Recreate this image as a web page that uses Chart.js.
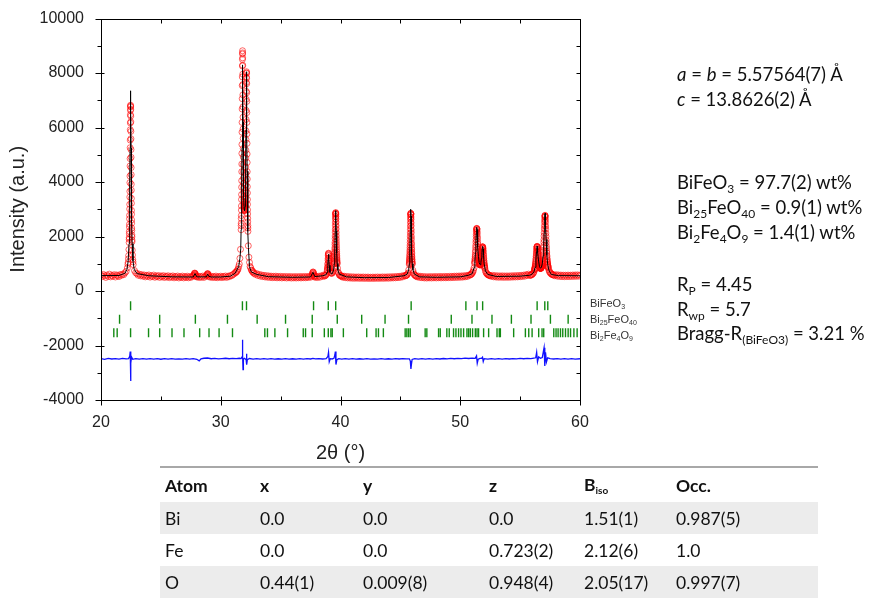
<!DOCTYPE html>
<html>
<head>
<meta charset="utf-8">
<script src="https://cdn.jsdelivr.net/npm/chart.js@4.4.1/dist/chart.umd.min.js"></script>
<style>
  body { margin: 0; background: #fff; }
  #wrap { position: relative; width: 870px; height: 601px; overflow: hidden; font-family: "Liberation Sans", Arial, sans-serif; }
  #plot { position: absolute; left: 0; top: 0; }
  .phase { position: absolute; left: 590px; font-size: 11px; color: #333; line-height: 12px; }
  .phase sub { font-size: 7px; vertical-align: -2px; }
  .info { position: absolute; left: 677px; font-family: Lato, "Open Sans", sans-serif; font-size: 18.5px; color: #111; line-height: 22px; white-space: nowrap; }
  .info sub { font-size: 12px; vertical-align: -4px; }
  table { position: absolute; left: 160px; top: 466px; width: 658px; table-layout: fixed; border-collapse: collapse; font-family: Lato, "Open Sans", sans-serif; font-size: 17.5px; color: #111; border-top: 2px solid #a8a8a8; }
  td, th { height: 32px; padding: 0 0 0 5px; text-align: left; white-space: nowrap; }
  th { font-weight: bold; height: 34px; }
  tr.g td { background: #ececec; }
  th sub { font-size: 10px; font-weight: bold; vertical-align: -3px; }
</style>
</head>
<body>
<div id="wrap">
  <canvas id="plot" width="870" height="470"></canvas>

  <div class="phase" style="top:297px">BiFeO<sub>3</sub></div>
  <div class="phase" style="top:313px">Bi<sub>25</sub>FeO<sub>40</sub></div>
  <div class="phase" style="top:329px">Bi<sub>2</sub>Fe<sub>4</sub>O<sub>9</sub></div>

  <div class="info" style="top:63px"><i>a</i> = <i>b</i> = 5.57564(7) Å</div>
  <div class="info" style="top:88px"><i>c</i> = 13.8626(2) Å</div>
  <div class="info" style="top:171px">BiFeO<sub>3</sub> = 97.7(2) wt%</div>
  <div class="info" style="top:196px">Bi<sub>25</sub>FeO<sub>40</sub> = 0.9(1) wt%</div>
  <div class="info" style="top:221px">Bi<sub>2</sub>Fe<sub>4</sub>O<sub>9</sub> = 1.4(1) wt%</div>
  <div class="info" style="top:273px">R<sub>P</sub> = 4.45</div>
  <div class="info" style="top:298px">R<sub>wp</sub> = 5.7</div>
  <div class="info" style="top:322px">Bragg-R<sub>(BiFeO3)</sub> = 3.21 %</div>

  <table>
    <tr><th style="width:90px">Atom</th><th style="width:98px">x</th><th style="width:121px">y</th><th style="width:90px">z</th><th style="width:87px">B<sub>iso</sub></th><th>Occ.</th></tr>
    <tr class="g"><td>Bi</td><td>0.0</td><td>0.0</td><td>0.0</td><td>1.51(1)</td><td>0.987(5)</td></tr>
    <tr><td>Fe</td><td>0.0</td><td>0.0</td><td>0.723(2)</td><td>2.12(6)</td><td>1.0</td></tr>
    <tr class="g"><td>O</td><td>0.44(1)</td><td>0.009(8)</td><td>0.948(4)</td><td>2.05(17)</td><td>0.997(7)</td></tr>
  </table>
</div>

<script>
// observed scan, stored as [start 2theta, step, counts...] pieces
const observedScan = [
  [20.0, 0.1, [590,530,610,555,500,585,540,620,520,575,545,600,515,590,560,530,605,575,620,600,665,720,850]],
  [22.25, 0.02, [980,1050,1180,1300,1520]],
  [22.35, 0.005, [1780,1900,1960,2100,2190,2350,2450,2650,2780,3010,3180,3450,3660,3980,4220,4590,4860,5260,5540,5920,6170,6470,6630,6790,6820,
                  6760,6670,6420,6210,5860,5590,5190,4910,4530,4270,3920,3700,3400,3220,2960,2820,2610,2490,2310,2220,2060,1990,1870,1810]],
  [22.61, 0.02, [1500,1320,1160,1070,970]],
  [22.8, 0.1, [750,670,640,580,620,555,600,545,590,520,575,540,590,510,560,530,585,505,555,525,570,500,550,520,565,495,545,515,560,490,
               540,510,555,485,535,505,550,480,530,500,548,482,530,498,545,485,528,500,540,560]],
  [27.75, 0.025, [570,600,640,660,650,620,590,555,530]],
  [28.0, 0.1, [515,545,495,535,505,550,500,540,560]],
  [28.85, 0.025, [590,620,640,630,600,565,530]],
  [29.1, 0.1, [510,545,495,535,500,548,488,530,505,545,492,538,510,552,500,545,525,570,560,600,625,680]],
  [31.25, 0.05, [670,710,720,770,810,900,990,1200,1530]],
  [31.70, 0.005, [2250,2400,2490,2660,2770,2970,3120,3360,3540,3810,4050,4380,4660,5050,5380,5830,6190,6680,7060,7540,7860,8260,8500,8700,8820,
                  8740,8560,8290,7960,7580,7200,6760,6380,5950,5600,5230,4920,4640,4380,4150,3950,3780,3620,3480,3370,3260,3180,3120,3080]],
  [31.95, 0.01, [3040,3010,2970,2950,2960,2990,3040,3080]],
  [32.03, 0.005, [3100,3130,3150,3230,3280,3380,3460,3590,3700,3880,4060,4310,4550,4880,5170,5560,5880,6300,6630,7040,7330,7660,7850,8010,8050,
                  7990,7810,7610,7280,6960,6550,6190,5770,5420,5030,4720,4380,4110,3830,3600,3360,3180,2980,2830,2670,2540,2400,2310,2190]],
  [32.30, 0.05, [1660,1240,1050,900,850,770,760,700,710,660]],
  [32.8, 0.1, [650,610,640,570,610,545,590,530,575,515,565,505,555,500,548,490,540,495,545,485,535,490,538,480,530,488,535,478,528,485,
               532,476,525,482,530,478,526,484,532,480,528,488,535,486,530,495,540,505]],
  [37.6, 0.025, [540,575,620,665,700,690,650,600,560,530,545]],
  [37.9, 0.1, [500,540,495,545,510,560,540,590]],
  [38.65, 0.05, [545,560,575,600,645]],
  [38.90, 0.01, [760,780,850,880,970,1020,1130,1200,1310,1350,1390,1370,1290,1220,1110,1050,950,905,840,810,760]],
  [39.15, 0.05, [690,660,650,655,690,745,860]],
  [39.48, 0.005, [1000,1020,1070,1100,1150,1190,1260,1300,1380,1440,1530,1600,1710,1790,1920,2020,2160,2270,2410,2520,2650,2730,2820,2860,2880,
                  2850,2810,2740,2640,2530,2400,2280,2150,2030,1910,1800,1700,1610,1520,1445,1370,1310,1250,1200,1145,1105,1060,1030,995]],
  [39.75, 0.05, [840,700,650,590,585,555,560,530,545]],
  [40.2, 0.1, [505,545,490,535,480,528,475,522,470,520,468,515,472,518,465,512,470,516,462,510,468,514,460,508,466,512,462,510,468,516,
               464,512,470,518,466,515,472,520,470,522,476,525,480,528,485,535,492,540,500,550,520,570,560]],
  [45.45, 0.05, [560,580,585,625,665,775]],
  [45.75, 0.005, [975,1015,1045,1095,1135,1185,1235,1295,1355,1435,1505,1595,1685,1785,1895,2015,2135,2265,2385,2515,2625,2725,2795,2845,2850,
                  2835,2805,2715,2635,2505,2395,2255,2145,2005,1905,1775,1695,1585,1515,1425,1365,1285,1245,1175,1145,1085,1055,1005,985]],
  [46.04, 0.05, [765,675,615,595,565,560,540]],
  [46.4, 0.1, [520,550,495,540,488,532,480,528,476,524,482,530,478,526,484,532,480,528,486,534,482,530,488,536,486,534,490,538,492,540,
               495,545,498,548,502,552,505,555,510,560,520,568,535,585,580]],
  [50.85, 0.05, [595,615,625,665,695,760,850]],
  [51.20, 0.01, [1010,1055,1090,1155,1200,1275,1330,1420,1490,1595,1680,1795,1885,2000,2080,2180,2235,2290,2300,2280,
                 2255,2180,2110,2005,1920,1810,1725,1615,1545,1450,1395,1315,1275,1210,1180,1125,1105,1060,1050,1015,
                 1010,985,985,965,975,955,970,960,980,975,1005,1010,1045,1050,1095,1115,1165,1195,1255,1295,
                 1360,1405,1470,1510,1570,1590,1625,1620,1615,1580,1550,1485,1440,1365,1315,1240,1195,1125,1090,1030,
                 1000,950,925,885,865,830]],
  [52.10, 0.05, [745,680,650,620,605,585,585,565,565]],
  [52.6, 0.1, [540,575,520,565,512,560,505,555,508,558,502,552,506,556,504,554,508,560,512,562,515,566,520,570,525,575,535,585,545,600,570,620]],
  [55.80, 0.05, [570,590,580,600,605,640,650,700]],
  [56.20, 0.01, [770,780,805,820,850,865,905,925,970,1000,1050,1090,1150,1195,1265,1320,1390,1445,1515,1555,
                 1605,1625,1640,1630,1612,1568,1528,1462,1412,1345,1295,1228,1188,1130,1098,1048,1025,985,968,935,
                 922,898,890,870,868,850,852,838,842,830,838,830,840,836,846,845,860,862,880,884,
                 905,912,938,948,982,995,1035,1055,1102,1130,1186,1222,1292,1343,1425,1488,1590,1670,1790,1888,
                 2022,2138,2280,2396,2528,2622,2715,2758,2780,2755,2712,2618,2520,2388,2270,2125,2008,1872,1770,1650,
                 1566,1462,1398,1312,1262,1188,1150,1090,1060,1010,988,945,928,890,878,846]],
  [57.40, 0.05, [775,710,680,645,635,610,605,590,590]],
  [57.9, 0.1, [560,600,545,590,535,585,530,582,528,580,532,585,530,582,535,588,538,590,540,592,545,585]]
];

// calculated profile [2theta, counts]
const calculated = [
  [20.0,565],[21.5,570],[22.0,650],[22.17,800],[22.27,1105],[22.34,1740],[22.38,2640],[22.41,3945],[22.43,5250],[22.45,6670],[22.47,7350],
  [22.49,6670],[22.51,5250],[22.53,3945],[22.56,2640],[22.60,1740],[22.67,1105],[22.77,800],[23.0,640],[24.0,560],[26.0,520],[27.7,515],
  [27.85,640],[28.0,520],[28.8,520],[28.9,625],[29.0,540],[29.2,515],[30.0,515],[30.8,545],[31.2,650],[31.5,900],[31.6,1200],[31.67,1550],
  [31.70,2250],[31.73,2950],[31.76,4050],[31.78,5250],[31.80,6900],[31.82,8300],[31.84,7750],[31.86,6200],[31.88,4800],[31.91,3600],
  [31.95,3000],[31.99,2950],[32.03,3100],[32.06,3450],[32.09,4550],[32.11,5900],[32.13,7350],[32.15,8050],[32.17,7300],[32.19,5800],
  [32.21,4400],[32.24,3000],[32.27,2200],[32.31,1600],[32.40,900],[32.55,700],[33.0,610],[34.0,525],[36.0,505],[37.5,515],[37.7,690],
  [37.85,530],[38.5,560],[38.8,600],[38.88,690],[38.94,940],[38.97,1180],[39.00,1350],[39.03,1180],[39.06,940],[39.12,690],[39.20,640],
  [39.30,630],[39.42,770],[39.48,1010],[39.52,1400],[39.56,2210],[39.58,2720],[39.60,2950],[39.62,2720],[39.64,2210],[39.68,1400],
  [39.72,1010],[39.78,770],[39.90,620],[40.5,520],[42.0,490],[44.0,495],[45.3,560],[45.57,620],[45.69,780],[45.75,1000],[45.79,1410],
  [45.83,2230],[45.85,2750],[45.87,3000],[45.89,2750],[45.91,2230],[45.95,1410],[45.99,1000],[46.05,780],[46.17,620],[46.6,520],
  [48.0,505],[50.0,520],[50.7,580],[51.0,640],[51.15,850],[51.22,1100],[51.27,1420],[51.31,1800],[51.34,2100],[51.36,2260],[51.38,2340],
  [51.40,2260],[51.43,2010],[51.47,1620],[51.52,1270],[51.58,1045],[51.65,965],[51.72,1040],[51.77,1200],[51.81,1410],[51.84,1570],
  [51.87,1640],[51.90,1545],[51.94,1310],[52.00,995],[52.10,740],[52.30,610],[53.0,535],[55.0,545],[55.8,580],[56.0,620],[56.15,700],
  [56.25,870],[56.32,1145],[56.37,1450],[56.40,1600],[56.42,1650],[56.44,1610],[56.48,1410],[56.54,1095],[56.62,890],[56.70,835],
  [56.78,875],[56.85,1000],[56.92,1285],[56.97,1680],[57.01,2150],[57.04,2540],[57.06,2740],[57.08,2850],[57.10,2740],[57.13,2410],
  [57.17,1890],[57.23,1320],[57.30,985],[57.40,770],[57.60,610],[58.2,565],[60.0,560]
];

// difference curve (obs - calc, shifted) [2theta, counts]
const difference = [
  [20.0,-2480],[20.3,-2505],[20.6,-2470],[20.9,-2495],[21.2,-2478],[21.5,-2500],[21.8,-2470],[22.1,-2492],[22.3,-2478],[22.4,-2400],[22.44,-2220],[22.47,-3300],
  [22.5,-2650],[22.55,-2420],[22.65,-2505],[22.9,-2480],[23.2,-2500],[23.5,-2484],[23.8,-2502],[24.1,-2478],[24.4,-2496],[24.7,-2480],[25.0,-2503],[25.3,-2485],
  [25.6,-2497],[25.9,-2478],[26.2,-2500],[26.5,-2488],[26.8,-2502],[27.1,-2484],[27.4,-2496],[27.7,-2480],[28.0,-2505],[28.2,-2565],[28.35,-2488],[28.6,-2468],
  [28.9,-2458],[29.2,-2486],[29.5,-2470],[29.8,-2492],[30.1,-2478],[30.4,-2468],[30.7,-2486],[31.0,-2470],[31.3,-2482],[31.55,-2468],[31.7,-2480],[31.78,-2420],
  [31.81,-2100],[31.82,-1790],[31.84,-2350],[31.86,-2880],[31.89,-2500],[31.98,-2470],[32.05,-2492],[32.12,-2520],[32.15,-2300],[32.18,-2700],[32.22,-2520],
  [32.4,-2478],[32.7,-2496],[33.0,-2480],[33.3,-2502],[33.6,-2484],[33.9,-2498],[34.2,-2480],[34.5,-2500],[34.8,-2486],[35.1,-2498],[35.4,-2480],[35.7,-2500],
  [36.0,-2486],[36.3,-2496],[36.6,-2482],[36.9,-2500],[37.2,-2484],[37.5,-2494],[37.7,-2470],[37.9,-2492],[38.2,-2480],[38.5,-2494],[38.8,-2480],[38.95,-2400],
  [39.0,-2250],[39.06,-2600],[39.15,-2482],[39.3,-2494],[39.45,-2470],[39.53,-2350],[39.57,-2220],[39.62,-2700],[39.7,-2520],[39.85,-2485],[40.1,-2498],[40.4,-2480],
  [40.7,-2496],[41.0,-2484],[41.3,-2500],[41.6,-2486],[41.9,-2498],[42.2,-2482],[42.5,-2500],[42.8,-2488],[43.1,-2498],[43.4,-2484],[43.7,-2500],[44.0,-2486],
  [44.3,-2496],[44.6,-2482],[44.9,-2494],[45.2,-2480],[45.5,-2492],[45.75,-2490],[45.83,-2570],[45.88,-2860],[45.92,-2700],[45.98,-2510],[46.2,-2482],[46.5,-2496],
  [46.8,-2482],[47.1,-2498],[47.4,-2484],[47.7,-2496],[48.0,-2480],[48.3,-2494],[48.6,-2476],[48.9,-2490],[49.2,-2474],[49.5,-2486],[49.8,-2470],[50.1,-2482],
  [50.4,-2466],[50.7,-2476],[51.0,-2460],[51.25,-2470],[51.36,-2380],[51.42,-2650],[51.5,-2500],[51.65,-2470],[51.8,-2460],[51.86,-2430],[51.92,-2590],[52.0,-2480],
  [52.3,-2496],[52.6,-2482],[52.9,-2498],[53.2,-2484],[53.5,-2496],[53.8,-2480],[54.1,-2494],[54.4,-2478],[54.7,-2490],[55.0,-2474],[55.3,-2486],[55.6,-2470],
  [55.9,-2480],[56.15,-2460],[56.3,-2450],[56.38,-2250],[56.45,-2600],[56.55,-2420],[56.7,-2470],[56.85,-2440],[56.95,-2200],[57.0,-2080],[57.06,-2750],[57.12,-2250],
  [57.2,-2600],[57.3,-2450],[57.5,-2480],[57.8,-2494],[58.1,-2480],[58.4,-2496],[58.7,-2482],[59.0,-2498],[59.3,-2484],[59.6,-2500],[60.0,-2486]
];

// Bragg reflection positions (2theta) for each phase
const braggBiFeO3 = [22.47, 31.81, 32.15, 37.75, 38.98, 39.6, 45.9, 50.47, 51.4, 51.87, 56.42, 57.06, 57.31];
const braggBi25FeO40 = [21.55, 24.9, 27.88, 30.56, 33.04, 35.41, 37.64, 39.73, 41.77, 43.72, 45.68, 49.25, 50.98, 52.65, 54.27, 55.91, 57.53, 59.01];
const braggBi2Fe4O9 = [21.07, 21.35, 22.47, 23.97, 24.9, 25.93, 26.93, 28.24, 29.02, 29.86, 30.98, 33.68, 33.9, 34.52, 35.58, 36.89, 37.08, 37.64,
  38.65, 38.98, 39.2, 39.31, 40.24, 42.19, 42.97, 43.17, 43.58, 45.4, 45.54, 45.68, 45.82, 47.07, 47.21, 48.19, 48.33, 48.88, 49.08, 49.44,
  49.64, 49.86, 50.06, 50.28, 50.56, 50.7, 50.84, 51.03, 51.26, 51.4, 51.53, 51.95, 52.37, 53.07, 53.26, 53.35, 54.46, 55.44, 55.72, 56.0,
  56.55, 56.83, 56.97, 57.81, 58.0, 58.17, 58.37, 58.56, 58.79, 59.01, 59.21, 59.49, 59.76];

const xTicks = [20, 30, 40, 50, 60];
const yTicks = [-4000, -2000, 0, 2000, 4000, 6000, 8000, 10000];

// unpack the scan pieces into points
const obsPoints = [];
observedScan.forEach(([start, step, counts]) => {
  counts.forEach((c, i) => obsPoints.push({ x: +(start + i * step).toFixed(3), y: c }));
});
const pts = arr => arr.map(p => ({ x: p[0], y: p[1] }));
const tickRow = (arr, level) => arr.map(v => ({ x: v, y: level }));

// frame with inward/outward tick marks like the Origin plot
const frameTicks = {
  id: 'frameTicks',
  afterDraw(chart) {
    const { ctx, chartArea: a, scales: { x, y } } = chart;
    const L = Math.round(a.left) + 0.5, R = Math.round(a.right) + 0.5;
    const T = Math.round(a.top) + 0.5, B = Math.round(a.bottom) + 0.5;
    ctx.save();
    ctx.strokeStyle = '#000';
    ctx.lineWidth = 1;
    ctx.strokeRect(L, T, R - L, B - T);
    ctx.beginPath();
    for (let v = 20; v <= 60; v += 5) {
      const px = Math.round(x.getPixelForValue(v)) + 0.5;
      const major = v % 10 === 0;
      ctx.moveTo(px, B + (major ? 5 : 0)); ctx.lineTo(px, B - 4);
      ctx.moveTo(px, T); ctx.lineTo(px, T + 4);
    }
    for (let v = -4000; v <= 10000; v += 1000) {
      const py = Math.round(y.getPixelForValue(v)) + 0.5;
      const major = v % 2000 === 0;
      ctx.moveTo(L - (major ? 6 : 4), py); ctx.lineTo(L + (major ? 3 : 0), py);
      ctx.moveTo(R, py); ctx.lineTo(R - 4, py);
    }
    ctx.stroke();
    ctx.restore();
  }
};

const tickStyle = {
  type: 'scatter', pointStyle: 'line', rotation: 90, pointRadius: 4.5,
  borderColor: '#138a13', borderWidth: 1.4, order: 2
};

new Chart(document.getElementById('plot'), {
  type: 'scatter',
  data: {
    datasets: [
      { label: 'Calc', data: pts(calculated), showLine: true, borderColor: '#000', borderWidth: 1, pointRadius: 0, order: 0 },
      { label: 'Obs', data: obsPoints, pointStyle: 'circle', pointRadius: 3, borderWidth: 1,
        borderColor: 'rgba(255,0,0,0.6)', backgroundColor: 'rgba(255,255,255,0)', order: 1 },
      Object.assign({ label: 'BiFeO3', data: tickRow(braggBiFeO3, -540) }, tickStyle),
      Object.assign({ label: 'Bi25FeO40', data: tickRow(braggBi25FeO40, -1040) }, tickStyle),
      Object.assign({ label: 'Bi2Fe4O9', data: tickRow(braggBi2Fe4O9, -1530) }, tickStyle),
      { label: 'Diff', data: pts(difference), showLine: true, borderColor: '#1010ff', borderWidth: 1.3, pointRadius: 0, order: 3 }
    ]
  },
  options: {
    responsive: false,
    animation: false,
    devicePixelRatio: 1,
    layout: { padding: { left: 0, top: 16, right: 290, bottom: 0 } },
    plugins: { legend: { display: false }, tooltip: { enabled: false } },
    scales: {
      x: {
        type: 'linear', min: 20, max: 60,
        afterFit: s => { s.height = 70; },
        afterBuildTicks: s => { s.ticks = xTicks.map(v => ({ value: v })); },
        grid: { display: false }, border: { display: false },
        ticks: { color: '#222', font: { family: 'Liberation Sans', size: 16 }, padding: 5, maxRotation: 0, callback: v => String(v) },
        title: { display: true, text: '2θ (°)', color: '#222', font: { family: 'Liberation Sans', size: 20 }, padding: { top: 0, bottom: 5 } }
      },
      y: {
        type: 'linear', min: -4000, max: 10000,
        afterFit: s => { s.width = 101; },
        afterBuildTicks: s => { s.ticks = yTicks.map(v => ({ value: v })); },
        grid: { display: false }, border: { display: false },
        ticks: { color: '#222', font: { family: 'Liberation Sans', size: 16 }, padding: 9, callback: v => String(v) },
        title: { display: true, text: 'Intensity (a.u.)', color: '#222', font: { family: 'Liberation Sans', size: 20 }, padding: { top: 6, bottom: 8 } }
      }
    }
  },
  plugins: [frameTicks]
});
</script>
</body>
</html>
